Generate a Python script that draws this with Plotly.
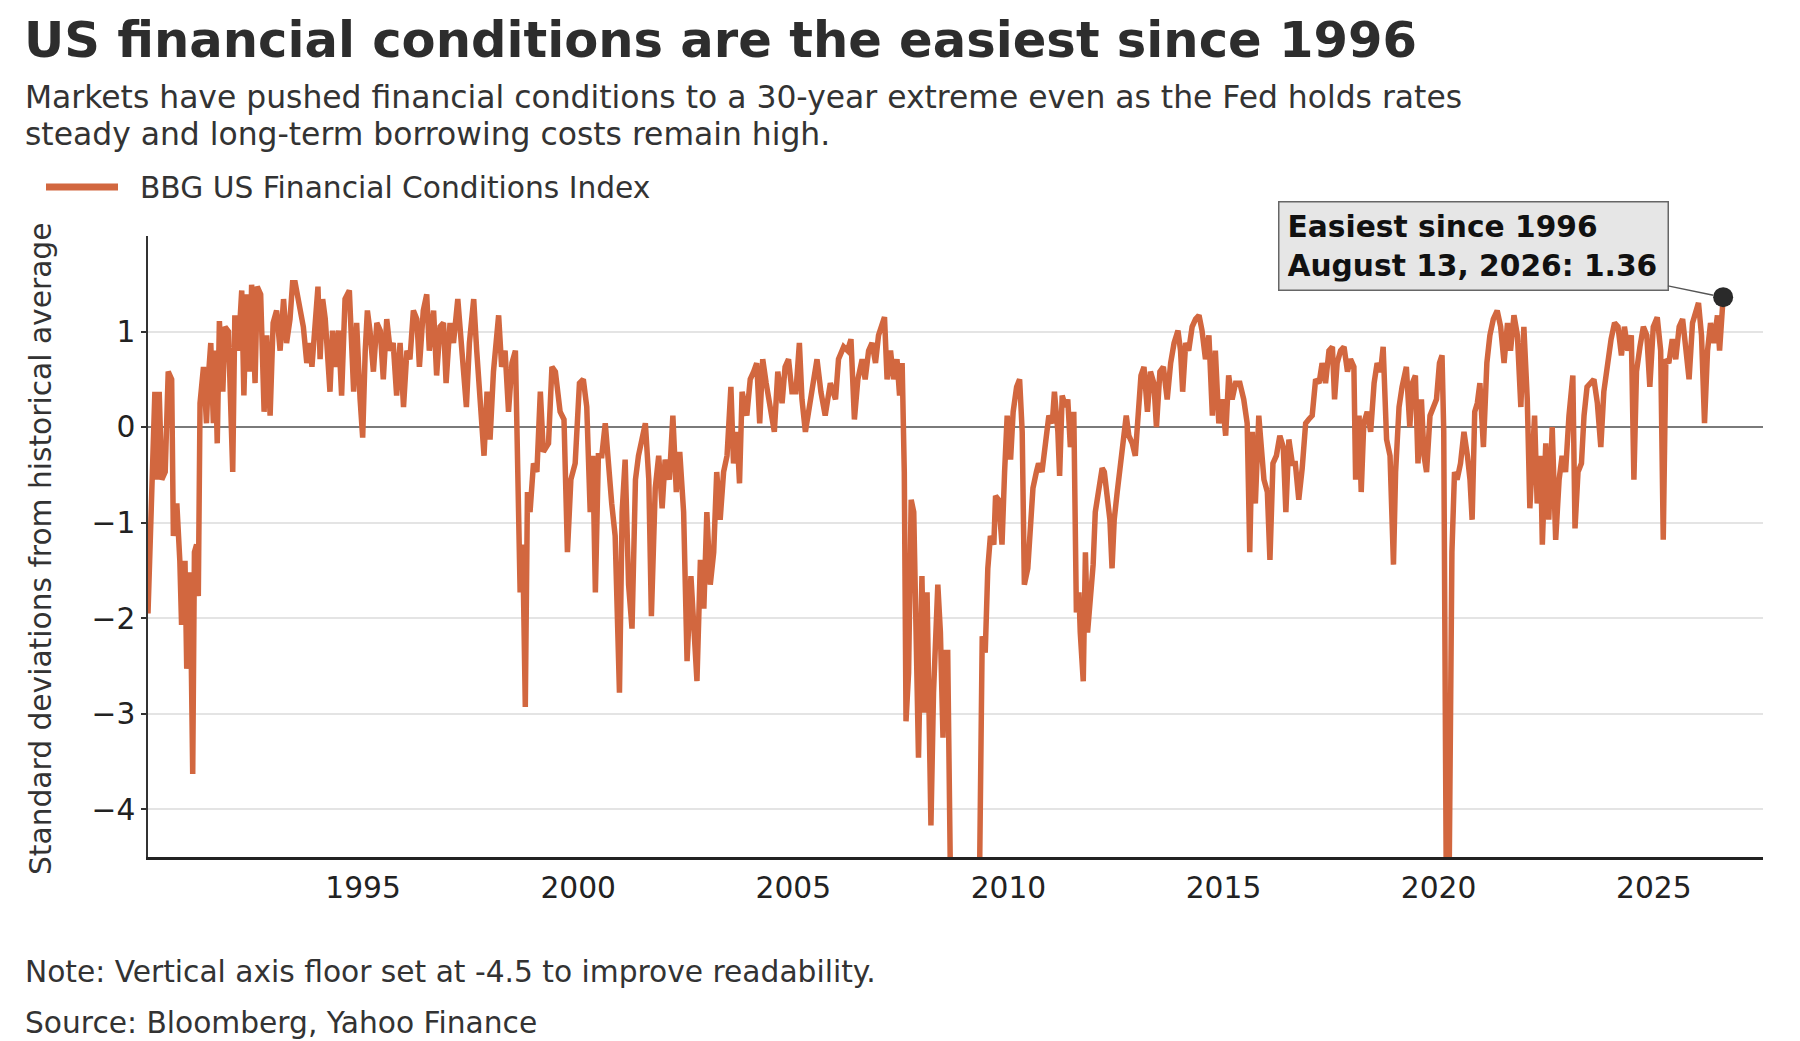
import plotly.graph_objects as go
import pandas as pd

# BBG US Financial Conditions Index (std devs from historical average)
years_a = [1990.00, 1990.08, 1990.16, 1990.20, 1990.26, 1990.32, 1990.40, 1990.47, 1990.55, 1990.59, 1990.67, 1990.74, 1990.78, 1990.86, 1990.90, 1990.98,
           1991.02, 1991.04, 1991.08, 1991.13, 1991.17, 1991.21, 1991.29, 1991.36, 1991.40, 1991.46, 1991.52, 1991.56, 1991.61, 1991.66, 1991.74, 1991.79, 1991.87, 1991.92, 1991.97,
           1992.02, 1992.10, 1992.18, 1992.23, 1992.29, 1992.37, 1992.41, 1992.49, 1992.54, 1992.62, 1992.70, 1992.76, 1992.84, 1992.91, 1992.99,
           1993.07, 1993.15, 1993.22, 1993.30, 1993.36, 1993.42, 1993.50, 1993.61, 1993.69, 1993.77, 1993.81, 1993.88, 1993.95,
           1994.00, 1994.06, 1994.12, 1994.16, 1994.23, 1994.29, 1994.35, 1994.43, 1994.50, 1994.58, 1994.68, 1994.78, 1994.85, 1994.93, 1994.99,
           1995.05, 1995.10, 1995.16, 1995.24, 1995.32, 1995.40, 1995.47, 1995.55, 1995.63, 1995.70, 1995.78, 1995.86, 1995.94,
           1996.02, 1996.09, 1996.17, 1996.25, 1996.31]
fci_a = [-1.95, -0.68, 0.37, -0.55, 0.37, -0.55, -0.47, 0.58, 0.50, -1.14, -0.80, -1.40, -2.07, -1.40, -2.53, -1.52,
         -3.00, -3.63, -1.31, -1.23, -1.77, 0.25, 0.63, 0.04, 0.50, 0.88, 0.04, 0.80, -0.17, 1.11, 0.37, 1.05, 1.00, 0.37, -0.47,
         1.17, 0.80, 1.43, 0.33, 1.39, 0.58, 1.49, 0.46, 1.47, 1.39, 0.16, 0.96, 0.12, 1.09, 1.22,
         0.80, 1.34, 0.88, 1.13, 1.51, 1.51, 1.30, 1.05, 0.67, 0.88, 0.63, 1.09, 1.47,
         0.71, 1.34, 1.13, 0.80, 0.37, 1.01, 0.63, 1.01, 0.33, 1.34, 1.43, 0.37, 1.09, 0.29, -0.11,
         0.80, 1.22, 1.01, 0.58, 1.09, 1.01, 0.50, 1.13, 0.80, 0.88, 0.33, 0.88, 0.21,
         0.80, 0.71, 1.22, 1.13, 0.63]

years_b = [1996.40, 1996.48, 1996.54, 1996.64, 1996.71, 1996.79, 1996.87, 1996.93,
           1997.02, 1997.10, 1997.20, 1997.30, 1997.40, 1997.47, 1997.57, 1997.64, 1997.72, 1997.81, 1997.88, 1997.95,
           1998.03, 1998.15, 1998.22, 1998.30, 1998.38, 1998.46, 1998.54, 1998.59, 1998.65, 1998.71, 1998.77, 1998.82, 1998.88, 1998.96,
           1999.04, 1999.12, 1999.19, 1999.31, 1999.39, 1999.47, 1999.58, 1999.67, 1999.75, 1999.83, 1999.93]
fci_b = [1.22, 1.39, 0.80, 1.22, 0.54, 1.05, 1.09, 0.46,
         1.09, 0.88, 1.34, 0.71, 0.21, 0.88, 1.34, 0.80, 0.29, -0.30, 0.37, -0.13,
         0.58, 1.17, 0.63, 0.80, 0.16, 0.67, 0.80, -0.13, -1.73, -1.23, -2.93, -0.68, -0.89, -0.38,
         -0.47, 0.37, -0.26, -0.17, 0.63, 0.58, 0.16, 0.08, -1.31, -0.55, -0.38]

years_c = [2000.03, 2000.12, 2000.20, 2000.28, 2000.34, 2000.40, 2000.47, 2000.55, 2000.63, 2000.71, 2000.78, 2000.86, 2000.96,
           2001.02, 2001.09, 2001.17, 2001.25, 2001.33, 2001.40, 2001.48, 2001.56, 2001.64, 2001.70, 2001.79, 2001.87, 2001.95,
           2002.02, 2002.12, 2002.20, 2002.28, 2002.36, 2002.45, 2002.53, 2002.62, 2002.68, 2002.76, 2002.84, 2002.92, 2002.99]
fci_c = [0.46, 0.50, 0.21, -0.89, -0.30, -1.73, -0.30, -0.30, 0.04, -0.47, -0.80, -1.14, -2.78,
         -0.89, -0.34, -1.65, -2.11, -0.55, -0.30, -0.13, 0.04, -0.55, -1.98, -0.64, -0.30, -0.85,
         -0.34, -0.55, 0.12, -0.68, -0.26, -0.89, -2.45, -1.56, -2.15, -2.66, -1.39, -1.90, -0.89]

years_d = [2003.07, 2003.15, 2003.22, 2003.30, 2003.38, 2003.46, 2003.55, 2003.61, 2003.69, 2003.75, 2003.81, 2003.92,
           2004.00, 2004.08, 2004.15, 2004.22, 2004.29, 2004.37, 2004.46, 2004.56, 2004.64, 2004.74, 2004.81, 2004.89, 2004.97,
           2005.06, 2005.14, 2005.20, 2005.28, 2005.36, 2005.46, 2005.55, 2005.64, 2005.74, 2005.86, 2005.98,
           2006.05, 2006.17, 2006.26, 2006.34, 2006.42, 2006.50, 2006.60, 2006.67, 2006.75, 2006.83, 2006.91, 2006.98,
           2007.06, 2007.12, 2007.18, 2007.26, 2007.33, 2007.41, 2007.47, 2007.53, 2007.58, 2007.62, 2007.68, 2007.74, 2007.80, 2007.86, 2007.91, 2007.99,
           2008.05, 2008.11, 2008.17, 2008.20, 2008.26, 2008.36, 2008.42, 2008.48, 2008.53, 2008.59, 2008.65, 2008.72, 2008.85,
           2009.00, 2009.15, 2009.28, 2009.33]
fci_d = [-1.65, -1.31, -0.47, -0.97, -0.47, -0.30, 0.42, -0.38, -0.05, -0.59, 0.37, 0.12,
         0.50, 0.58, 0.67, 0.04, 0.71, 0.46, 0.25, -0.05, 0.58, 0.25, 0.63, 0.71, 0.37,
         0.37, 0.88, 0.29, -0.05, 0.21, 0.46, 0.71, 0.37, 0.12, 0.46, 0.29,
         0.71, 0.84, 0.80, 0.92, 0.08, 0.50, 0.71, 0.50, 0.80, 0.88, 0.67, 0.96,
         1.09, 1.15, 0.50, 0.80, 0.50, 0.71, 0.33, 0.67, -0.47, -3.08, -2.57, -0.76, -0.89, -2.15, -3.46, -1.56,
         -2.99, -1.73, -3.20, -4.17, -2.78, -1.65, -2.15, -3.25, -2.36, -2.36, -4.60, -7.00, -9.00,
         -8.00, -6.50, -5.00, -4.60]

years_e = [2009.39, 2009.46, 2009.52, 2009.58, 2009.66, 2009.70, 2009.77, 2009.85, 2009.91, 2009.97,
           2010.05, 2010.11, 2010.19, 2010.26, 2010.32, 2010.37, 2010.45, 2010.51, 2010.57, 2010.65, 2010.70, 2010.78, 2010.86, 2010.94,
           2011.02, 2011.07, 2011.15, 2011.19, 2011.25, 2011.33, 2011.38, 2011.44, 2011.52, 2011.58, 2011.64, 2011.67, 2011.74, 2011.79, 2011.84, 2011.91, 2011.97,
           2012.02, 2012.10, 2012.18, 2012.23, 2012.29, 2012.36, 2012.41, 2012.46, 2012.53, 2012.60, 2012.67, 2012.74, 2012.80, 2012.88, 2012.95,
           2013.01, 2013.08, 2013.15, 2013.23, 2013.30, 2013.38, 2013.44, 2013.52, 2013.60, 2013.69, 2013.77, 2013.85, 2013.94,
           2014.00, 2014.05, 2014.12, 2014.19, 2014.27, 2014.35, 2014.43, 2014.50, 2014.58, 2014.66, 2014.74, 2014.81, 2014.89, 2014.97,
           2015.05, 2015.12, 2015.20, 2015.28, 2015.38, 2015.47, 2015.55, 2015.61, 2015.67, 2015.74, 2015.82]
fci_e = [-2.19, -2.36, -1.48, -1.14, -1.23, -0.72, -0.76, -1.23, -0.47, 0.12,
         -0.34, 0.16, 0.42, 0.50, -0.05, -1.65, -1.48, -0.97, -0.64, -0.47, -0.38, -0.47, -0.13, 0.12,
         0.04, 0.37, -0.05, -0.51, 0.33, 0.21, 0.29, -0.21, 0.16, -1.94, -1.73, -2.15, -2.66, -1.31, -2.15, -1.81, -1.44,
         -0.89, -0.68, -0.43, -0.47, -0.68, -0.97, -1.48, -0.97, -0.68, -0.43, -0.21, 0.12, -0.09, -0.17, -0.30,
         0.21, 0.54, 0.63, 0.16, 0.58, 0.46, 0.00, 0.58, 0.63, 0.29, 0.67, 0.88, 1.01,
         0.80, 0.37, 0.88, 0.80, 1.05, 1.13, 1.17, 1.01, 0.71, 0.96, 0.12, 0.80, 0.04, 0.29,
         -0.09, 0.54, 0.29, 0.46, 0.46, 0.29, 0.04, -1.31, -0.05, -0.80, 0.12]

years_f = [2015.94, 2016.02, 2016.08, 2016.15, 2016.23, 2016.31, 2016.39, 2016.45, 2016.52, 2016.60, 2016.67, 2016.75, 2016.83, 2016.91, 2016.98,
           2017.06, 2017.14, 2017.22, 2017.29, 2017.37, 2017.45, 2017.53, 2017.58, 2017.64, 2017.72, 2017.80, 2017.88, 2017.95,
           2018.03, 2018.07, 2018.15, 2018.20, 2018.26, 2018.34, 2018.42, 2018.50, 2018.57, 2018.65, 2018.71, 2018.79, 2018.87, 2018.95,
           2019.00, 2019.08, 2019.15, 2019.25, 2019.33, 2019.39, 2019.46, 2019.52, 2019.60, 2019.66, 2019.72, 2019.80, 2019.88, 2019.95,
           2020.02, 2020.08, 2020.12, 2020.15, 2020.17, 2020.20, 2020.24, 2020.28, 2020.31, 2020.37, 2020.43, 2020.51, 2020.59, 2020.67, 2020.73, 2020.78, 2020.84, 2020.90, 2020.96,
           2021.04, 2021.12, 2021.19, 2021.27, 2021.36, 2021.44, 2021.52, 2021.60, 2021.67, 2021.75, 2021.83, 2021.91, 2021.98,
           2022.06, 2022.12, 2022.18, 2022.23, 2022.29, 2022.37]
fci_f = [-0.55, -0.68, -1.39, -0.38, -0.30, -0.09, -0.21, -0.89, -0.13, -0.38, -0.38, -0.76, -0.43, 0.04, 0.08,
         0.12, 0.50, 0.46, 0.67, 0.46, 0.80, 0.84, 0.29, 0.67, 0.80, 0.84, 0.58, 0.71,
         0.63, -0.55, 0.12, -0.68, 0.04, 0.16, -0.05, 0.46, 0.67, 0.58, 0.84, -0.13, -0.30, -1.44,
         -0.47, 0.21, 0.42, 0.63, 0.00, 0.46, 0.54, -0.38, 0.29, -0.30, -0.47, 0.12, 0.21, 0.29,
         0.67, 0.75, -0.05, -2.15, -4.60, -6.50, -5.00, -2.57, -1.31, -0.47, -0.55, -0.38, -0.05, -0.30, -0.55, -0.97, 0.16, 0.25, 0.46,
         -0.21, 0.67, 0.96, 1.13, 1.22, 1.05, 0.67, 1.09, 0.80, 1.17, 0.96, 0.21, 1.05,
         0.29, -0.85, -0.30, 0.12, -0.80, -0.30]

years_g = [2022.41, 2022.49, 2022.56, 2022.64, 2022.72, 2022.80, 2022.87, 2022.95,
           2023.03, 2023.12, 2023.17, 2023.24, 2023.32, 2023.38, 2023.45, 2023.53, 2023.61, 2023.69, 2023.77, 2023.84, 2023.92,
           2024.01, 2024.09, 2024.17, 2024.25, 2024.32, 2024.40, 2024.48, 2024.54, 2024.60, 2024.68, 2024.76, 2024.84, 2024.91, 2024.99,
           2025.08, 2025.16, 2025.22, 2025.28, 2025.35, 2025.43, 2025.51, 2025.59, 2025.67, 2025.74, 2025.82, 2025.90, 2025.97,
           2026.04, 2026.11, 2026.18, 2026.25, 2026.32, 2026.40, 2026.48, 2026.53]
fci_g = [-1.23, -0.17, -0.97, 0.00, -1.18, -0.55, -0.30, -0.47,
         0.12, 0.54, -1.06, -0.47, -0.38, 0.12, 0.42, 0.46, 0.50, 0.25, -0.21, 0.37, 0.67,
         0.92, 1.09, 1.05, 0.75, 1.05, 0.80, 0.96, -0.55, 0.58, 0.84, 1.05, 0.96, 0.42, 1.05,
         1.15, 0.80, -1.18, 0.71, 0.67, 0.92, 0.71, 1.05, 1.13, 0.84, 0.50, 1.09, 1.22,
         1.30, 0.96, 0.04, 0.80, 1.09, 0.88, 1.17, 0.80]

latest_date = "2026-08-13"
latest_value = 1.36

y_ticks = [-4, -3, -2, -1, 0, 1]
x_tick_years = [1995, 2000, 2005, 2010, 2015, 2020, 2025]

LINE = "#D2673F"
FONT = "DejaVu Sans"
TXT = 29.7

# the page body adds an 8px margin, so the figure is 8px smaller than the window
W, H = 1792, 1033
L, R, T, B = 140, 37, 228, 184


def to_date(y):
    base = pd.Timestamp(year=int(y), month=1, day=1)
    return base + pd.Timedelta(days=(y - int(y)) * 365.25)


def px_x(p):
    return (p - L) / (W - L - R)


def px_y(p):
    return (H - B - p) / (H - T - B)


years, fci = [], []
for ys, vs in [(years_a, fci_a), (years_b, fci_b), (years_c, fci_c), (years_d, fci_d),
               (years_e, fci_e), (years_f, fci_f), (years_g, fci_g)]:
    assert len(ys) == len(vs)
    years += ys
    fci += vs
dates = [to_date(y) for y in years] + [pd.Timestamp(latest_date)]
fci = fci + [latest_value]

fig = go.Figure()
fig.add_trace(go.Scatter(x=dates, y=fci, mode='lines', name='BBG US Financial Conditions Index',
                         line=dict(color=LINE, width=5.5), showlegend=False))
fig.add_trace(go.Scatter(x=[dates[-1]], y=[fci[-1]], mode='markers',
                         marker=dict(size=20, color='#2a2a2a'), showlegend=False, cliponaxis=False))

annotations = [
    dict(text="<b>US financial conditions are the easiest since 1996</b>", x=px_x(13.5), y=px_y(32),
         xanchor='left', yanchor='middle', font=dict(size=49.6, color='#2d2d2d')),
    dict(text="Markets have pushed financial conditions to a 30-year extreme even as the Fed holds rates",
         x=px_x(14.7), y=px_y(89), xanchor='left', yanchor='middle', font=dict(size=31.4, color='#333333')),
    dict(text="steady and long-term borrowing costs remain high.",
         x=px_x(14.7), y=px_y(126), xanchor='left', yanchor='middle', font=dict(size=31.4, color='#333333')),
    dict(text="BBG US Financial Conditions Index", x=px_x(129.7), y=px_y(179),
         xanchor='left', yanchor='middle', font=dict(size=TXT, color='#333333')),
    dict(text="Standard deviations from historical average", x=px_x(32), y=px_y(541), textangle=-90,
         xanchor='center', yanchor='middle', font=dict(size=TXT, color='#333333')),
    dict(text="Note: Vertical axis floor set at -4.5 to improve readability.", x=px_x(14.7), y=px_y(963),
         xanchor='left', yanchor='middle', font=dict(size=TXT, color='#333333')),
    dict(text="Source: Bloomberg, Yahoo Finance", x=px_x(14.7), y=px_y(1014),
         xanchor='left', yanchor='middle', font=dict(size=TXT, color='#333333')),
]
for a in annotations:
    a.update(xref='paper', yref='paper', showarrow=False)

annotations.append(dict(
    text="<b>Easiest since 1996<br>August 13, 2026: 1.36</b>",
    x=dates[-1], y=fci[-1], xref='x', yref='y', showarrow=True, arrowhead=0,
    arrowwidth=1.5, arrowcolor='#555555', ax=-250, ay=-51, standoff=10,
    width=372, height=71, borderpad=8, valign='middle',
    bgcolor='#e6e6e6', bordercolor='#666666', borderwidth=1.5,
    align='left', font=dict(size=TXT, color='#111111')))

fig.update_layout(
    width=W, height=H,
    margin=dict(l=L, r=R, t=T, b=B),
    paper_bgcolor='white', plot_bgcolor='white',
    font=dict(family=FONT, color='#222222'),
    annotations=annotations,
    shapes=[dict(type='line', xref='paper', yref='paper', x0=px_x(38), x1=px_x(110),
                 y0=px_y(179), y1=px_y(179), line=dict(color=LINE, width=7))],
    xaxis=dict(type='date', range=[to_date(1990.0), to_date(2027.54)],
               tickvals=[to_date(y) for y in x_tick_years], ticktext=[str(y) for y in x_tick_years],
               showgrid=False, zeroline=False, showline=True, linecolor='#222222', linewidth=2.5,
               ticks='', ticklabelstandoff=3, tickfont=dict(size=TXT, color='#222222')),
    yaxis=dict(range=[-4.5, 2.0], tickvals=y_ticks, showgrid=True, gridcolor='#e4e4e4', gridwidth=1.5,
               zeroline=True, zerolinecolor='#7a7a7a', zerolinewidth=2,
               showline=True, linecolor='#333333', linewidth=1.5,
               ticks='outside', ticklen=5, tickwidth=1.5, tickcolor='#333333',
               tickfont=dict(size=TXT, color='#222222')),
)

fig.write_html("out.html")
